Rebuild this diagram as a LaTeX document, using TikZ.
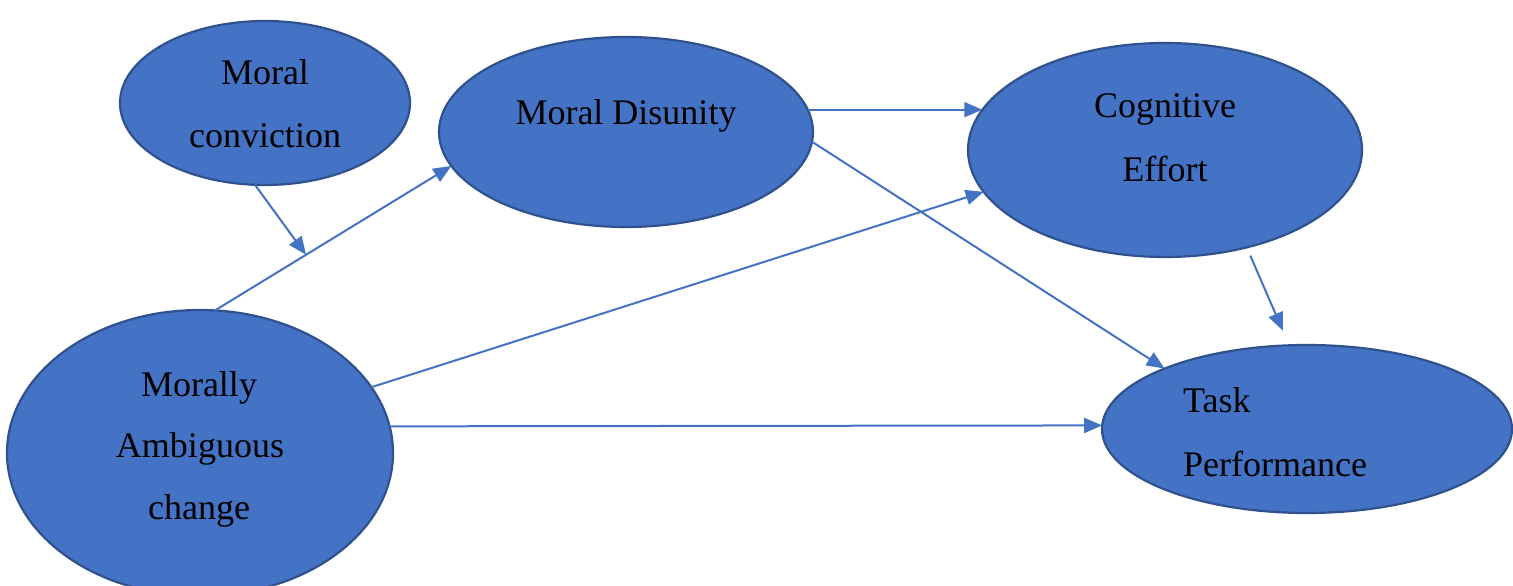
\documentclass[tikz,border=0pt]{standalone}
\usepackage{fontspec}
\setmainfont{Liberation Serif}
\usetikzlibrary{shapes.geometric,arrows.meta}
\definecolor{fillblue}{HTML}{4472C4}
\definecolor{edgeblue}{HTML}{2F528F}
\begin{document}
\begin{tikzpicture}[x=1pt,y=1pt,
  bub/.style={ellipse, draw=edgeblue, fill=fillblue, line width=2.2pt, inner sep=0pt, outer sep=0pt},
  arr/.style={draw=fillblue, line width=2pt, -{Triangle[length=18pt,width=15pt]}},
  txt/.style={anchor=base, inner sep=0pt, text=black, font=\fontsize{36}{42}\selectfont},
  txtl/.style={txt, anchor=base west}]
\clip (0,0) rectangle (1513,586);
\fill[white] (0,0) rectangle (1513,586);
% ellipses
\node[bub, minimum width=290pt, minimum height=164pt] (conv) at (265,483) {};
\node[bub, minimum width=374pt, minimum height=190pt] (dis)  at (626,454) {};
\node[bub, minimum width=394pt, minimum height=214pt] (cog)  at (1165,436) {};
\node[bub, minimum width=386pt, minimum height=286pt] (mac)  at (200,133) {};
\node[bub, minimum width=410pt, minimum height=168pt] (task) at (1307,157) {};
% texts
\node[txt] (conv1) at (265,501) {Moral};
\node[txt] (conv2) at (265,438) {conviction};
\node[txt] (dis1)  at (626,461) {Moral Disunity};
\node[txt] (cog1)  at (1165,468) {Cognitive};
\node[txt] (cog2)  at (1165,404) {Effort};
\node[txt] (mac1)  at (199,189) {Morally};
\node[txt] (mac2)  at (200,128) {Ambiguous};
\node[txt] (mac3)  at (199,66) {change};
\node[txtl] (task1) at (1183,173) {Task};
\node[txtl] (task2) at (1183,109) {Performance};
% connectors
\draw[arr] (mac.84) -- (dis.191) coordinate[pos=0.385] (mid);
\draw[arr] (conv.263) -- (mid);
\draw[arr] (dis.7) -- ([xshift=14.3pt]dis.7 -| cog.west);
\draw[arr] (dis.357.2) -- (task.157.5);
\draw[arr] (mac.21.9) -- (cog.193);
\draw[arr] (mac.8.6) -- (task.179.5);
\draw[arr, shorten <=9pt, shorten >=16pt] (cog.310.85) -- (task.102.7);
\end{tikzpicture}
\end{document}
